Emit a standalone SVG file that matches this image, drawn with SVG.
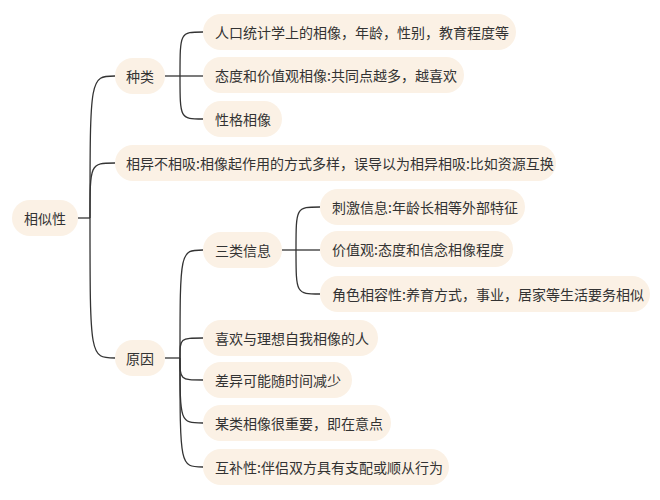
<svg xmlns="http://www.w3.org/2000/svg" width="660" height="500" viewBox="0 0 660 500">
<style>
.n rect{fill:#fbf1e5}
.n text{font-family:"Noto Sans CJK SC","Liberation Sans",sans-serif;font-size:14px;fill:#333;dominant-baseline:central}
#c path{fill:none;stroke:#333;stroke-width:1.3}
</style>
<rect width="660" height="500" fill="#fff"/>
<g id="c">
<path d="M78 218H90"/>
<path d="M90 218C90 76 90 76 115 76"/>
<path d="M90 218C90 163 90 163 115 163"/>
<path d="M90 218C90 358 90 358 115 358"/>
<path d="M165 76H180"/>
<path d="M180 76C180 32 180 32 203 32"/>
<path d="M180 76H203"/>
<path d="M180 76C180 119 180 119 203 119"/>
<path d="M165 358H180"/>
<path d="M180 358C180 250 180 250 203 250"/>
<path d="M180 358C180 338 180 338 203 338"/>
<path d="M180 358C180 380 180 380 203 380"/>
<path d="M180 358C180 423 180 423 203 423"/>
<path d="M180 358C180 467 180 467 203 467"/>
<path d="M282 250H296"/>
<path d="M296 250C296 207 296 207 320 207"/>
<path d="M296 250H320"/>
<path d="M296 250C296 294 296 294 320 294"/>
</g>
<g id="root" class="n"><rect x="12" y="200" width="66" height="36" rx="18"/><text x="24" y="218">相似性</text></g>
<g id="n1" class="n"><rect x="115" y="58" width="50" height="36" rx="18"/><text x="126" y="76">种类</text></g>
<g id="n11" class="n"><rect x="203" y="14" width="313" height="36" rx="18"/><text x="215" y="32">人口统计学上的相像，年龄，性别，教育程度等</text></g>
<g id="n12" class="n"><rect x="203" y="57" width="261" height="36" rx="18"/><text x="215" y="75">态度和价值观相像:共同点越多，越喜欢</text></g>
<g id="n13" class="n"><rect x="203" y="101" width="79" height="36" rx="18"/><text x="215" y="119">性格相像</text></g>
<g id="n2" class="n"><rect x="115" y="145" width="441" height="36" rx="18"/><text x="126" y="163">相异不相吸:相像起作用的方式多样，误导以为相异相吸:比如资源互换</text></g>
<g id="n3" class="n"><rect x="115" y="340" width="50" height="36" rx="18"/><text x="126" y="358">原因</text></g>
<g id="n31" class="n"><rect x="203" y="232" width="79" height="36" rx="18"/><text x="215" y="250">三类信息</text></g>
<g id="n311" class="n"><rect x="320" y="189" width="205" height="36" rx="18"/><text x="332" y="207">刺激信息:年龄长相等外部特征</text></g>
<g id="n312" class="n"><rect x="320" y="231" width="193" height="36" rx="18"/><text x="332" y="249">价值观:态度和信念相像程度</text></g>
<g id="n313" class="n"><rect x="320" y="276" width="330" height="36" rx="18"/><text x="332" y="294">角色相容性:养育方式，事业，居家等生活要务相似</text></g>
<g id="n32" class="n"><rect x="203" y="320" width="175" height="36" rx="18"/><text x="215" y="338">喜欢与理想自我相像的人</text></g>
<g id="n33" class="n"><rect x="203" y="362" width="149" height="36" rx="18"/><text x="215" y="380">差异可能随时间减少</text></g>
<g id="n34" class="n"><rect x="203" y="405" width="188" height="36" rx="18"/><text x="215" y="423">某类相像很重要，即在意点</text></g>
<g id="n35" class="n"><rect x="203" y="449" width="246" height="36" rx="18"/><text x="215" y="467">互补性:伴侣双方具有支配或顺从行为</text></g>
</svg>
